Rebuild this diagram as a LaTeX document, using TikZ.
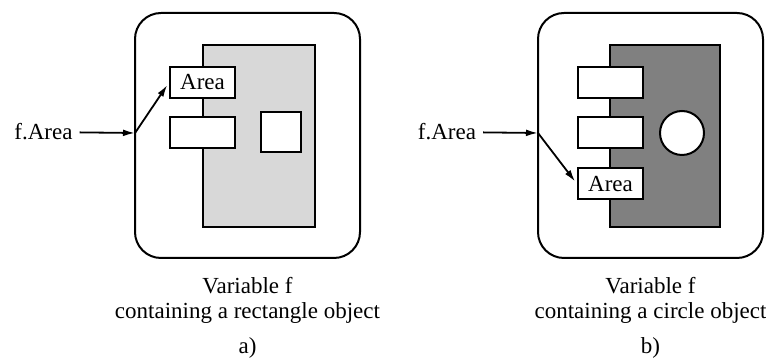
\documentclass[tikz,border=0pt]{standalone}
\usepackage{fontspec}
\setmainfont{Liberation Serif}
\usetikzlibrary{arrows.meta}
\definecolor{bodyLight}{HTML}{D8D8D8}
\definecolor{bodyDark}{HTML}{808080}

\begin{document}
\begin{tikzpicture}[x=0.5pt,y=0.5pt,>={Latex[length=6pt,width=3.4pt]},
  font=\fontsize{11.5pt}{12.5pt}\selectfont,
  varbox/.style={draw,line width=1pt,rounded corners=13pt,minimum width=112.5pt,minimum height=122.5pt},
  objbody/.style={draw,line width=1pt,minimum width=56pt,minimum height=91pt},
  slot/.style={draw,fill=white,line width=1pt,minimum width=32.5pt,minimum height=15.5pt,inner sep=0pt},
  ptr/.style={->,line width=0.9pt}]
\useasboundingbox (0,0) rectangle (766,358);

% a) variable holding a rectangle
\node[varbox] (varA) at (247.5,222.5) {};
\node[objbody,fill=bodyLight] (bodyA) at (258.5,222) {};
\node[slot] (areaA) at (202.5,275.5) {Area};
\node[slot] (slotA) at (202.5,225.5) {};
\node[draw,fill=white,line width=1pt,minimum size=20pt] (sqA) at (281,226) {};
\node (nameA) at (43.5,226) {f.Area};
\coordinate (inA) at (135,225);
\draw[ptr] (nameA) -- (inA);
\draw[ptr,shorten >=1.5pt] (inA) -- (areaA.west);
\node[align=center] (capA) at (247.5,57.5) {Variable f\\containing a rectangle object};
\node (tagA) at (247.5,10) {a)};

% b) variable holding a circle
\node[varbox] (varB) at (650.5,222.5) {};
\node[objbody,fill=bodyDark,minimum width=55pt] (bodyB) at (665,222) {};
\node[slot] (slotB1) at (610.5,275.5) {};
\node[slot] (slotB2) at (610.5,225.5) {};
\node[slot] (areaB) at (610.5,174) {Area};
\node[draw,circle,fill=white,line width=1pt,minimum size=22pt] (circB) at (682,225) {};
\node (nameB) at (447,226) {f.Area};
\coordinate (inB) at (538,225);
\draw[ptr] (nameB) -- (inB);
\draw[ptr,shorten >=1.5pt] (inB) -- (areaB.west);
\node[align=center] (capB) at (650.5,57.5) {Variable f\\containing a circle object};
\node (tagB) at (650.5,10) {b)};
\end{tikzpicture}
\end{document}
